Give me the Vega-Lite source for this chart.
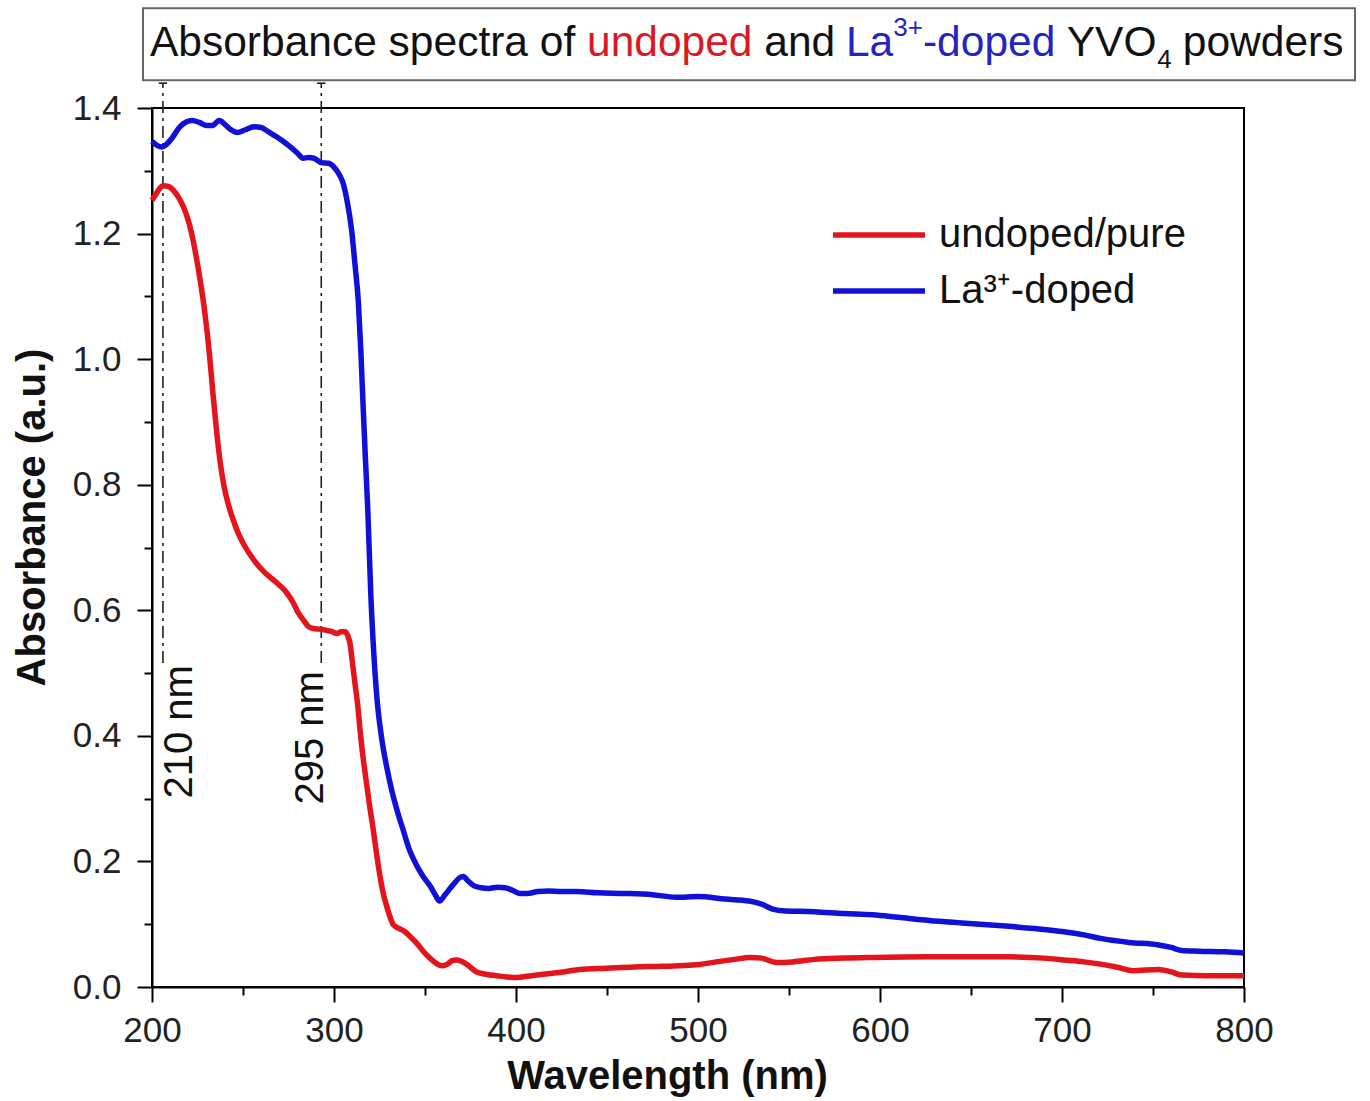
{
  "$schema": "https://vega.github.io/schema/vega-lite/v6.json",
  "width": 1092,
  "height": 879,
  "autosize": {"type": "none"},
  "padding": {"left": 152, "top": 108, "right": 126, "bottom": 114},
  "background": "white",
  "config": {
    "font": "Liberation Sans",
    "view": {"stroke": "black", "strokeWidth": 2},
    "axis": {"grid": false, "domainColor": "black", "domainWidth": 2, "tickColor": "black", "tickWidth": 2, "labelColor": "#222", "labelFontSize": 35, "titleFontSize": 40, "titleFontWeight": "bold", "titleColor": "#111", "labelFont": "Liberation Sans", "titleFont": "Liberation Sans", "labelFlush": false},
    "legend": {"orient": "none", "legendX": 707, "legendY": 107, "symbolType": "M-3,0H3", "symbolSize": 940, "symbolStrokeWidth": 5.5, "labelFontSize": 40, "labelOffset": 40, "rowPadding": 16, "padding": 0, "labelColor": "#111", "labelFont": "Liberation Sans", "labelLimit": 500}
  },
  "layer": [
    {
      "data": {"values": [{}]},
      "mark": {"type": "rect", "fill": "white", "stroke": "#666", "strokeWidth": 2},
      "encoding": {
        "x": {"datum": 195.05, "type": "quantitative"},
        "x2": {"datum": 861.0},
        "y": {"datum": 1.5589, "type": "quantitative"},
        "y2": {"datum": 1.4443}
      }
    },
    {
      "data": {"values": [{}]},
      "mark": {"type": "text", "text": "Absorbance spectra of", "align": "left", "baseline": "alphabetic", "fontSize": 42.5, "fill": "#111"},
      "encoding": {"x": {"datum": 198.9, "type": "quantitative"}, "y": {"datum": 1.4825, "type": "quantitative"}}
    },
    {
      "data": {"values": [{}]},
      "mark": {"type": "text", "text": "undoped", "align": "left", "baseline": "alphabetic", "fontSize": 42.5, "fill": "#d9181f"},
      "encoding": {"x": {"datum": 439.01, "type": "quantitative"}, "y": {"datum": 1.4825, "type": "quantitative"}}
    },
    {
      "data": {"values": [{}]},
      "mark": {"type": "text", "text": "and", "align": "left", "baseline": "alphabetic", "fontSize": 42.5, "fill": "#111"},
      "encoding": {"x": {"datum": 536.4, "type": "quantitative"}, "y": {"datum": 1.4825, "type": "quantitative"}}
    },
    {
      "data": {"values": [{}]},
      "mark": {"type": "text", "text": "La", "align": "left", "baseline": "alphabetic", "fontSize": 42.5, "fill": "#2424c4"},
      "encoding": {"x": {"datum": 581.3, "type": "quantitative"}, "y": {"datum": 1.4825, "type": "quantitative"}}
    },
    {
      "data": {"values": [{}]},
      "mark": {"type": "text", "text": "3+", "align": "left", "baseline": "alphabetic", "fontSize": 26, "fill": "#2424c4"},
      "encoding": {"x": {"datum": 607.3, "type": "quantitative"}, "y": {"datum": 1.5143, "type": "quantitative"}}
    },
    {
      "data": {"values": [{}]},
      "mark": {"type": "text", "text": "-doped", "align": "left", "baseline": "alphabetic", "fontSize": 42.5, "fill": "#2424c4"},
      "encoding": {"x": {"datum": 623.6, "type": "quantitative"}, "y": {"datum": 1.4825, "type": "quantitative"}}
    },
    {
      "data": {"values": [{}]},
      "mark": {"type": "text", "text": "YVO", "align": "left", "baseline": "alphabetic", "fontSize": 42.5, "fill": "#111"},
      "encoding": {"x": {"datum": 702.6, "type": "quantitative"}, "y": {"datum": 1.4825, "type": "quantitative"}}
    },
    {
      "data": {"values": [{}]},
      "mark": {"type": "text", "text": "4", "align": "left", "baseline": "alphabetic", "fontSize": 26, "fill": "#111"},
      "encoding": {"x": {"datum": 752.4, "type": "quantitative"}, "y": {"datum": 1.4634, "type": "quantitative"}}
    },
    {
      "data": {"values": [{}]},
      "mark": {"type": "text", "text": "powders", "align": "left", "baseline": "alphabetic", "fontSize": 42.5, "fill": "#111"},
      "encoding": {"x": {"datum": 766.4, "type": "quantitative"}, "y": {"datum": 1.4825, "type": "quantitative"}}
    },
    {
      "data": {"values": [{"marker": 206, "label": "210 nm"}, {"marker": 293, "label": "295 nm"}]},
      "mark": {"type": "rule", "stroke": "#222", "strokeWidth": 1.6, "strokeDash": [12, 5, 3, 5]},
      "encoding": {
        "x": {"field": "marker", "type": "quantitative"},
        "y": {"datum": 0.516, "type": "quantitative"},
        "y2": {"datum": 1.4395}
      }
    },
    {
      "data": {"values": [{}]},
      "mark": {"type": "rule", "stroke": "#222", "strokeWidth": 1.6},
      "encoding": {"x": {"datum": 203.7, "type": "quantitative"}, "x2": {"datum": 208.3}, "y": {"datum": 1.4395, "type": "quantitative"}}
    },
    {
      "data": {"values": [{}]},
      "mark": {"type": "rule", "stroke": "#222", "strokeWidth": 1.6},
      "encoding": {"x": {"datum": 290.7, "type": "quantitative"}, "x2": {"datum": 295.3}, "y": {"datum": 1.4395, "type": "quantitative"}}
    },
    {
      "data": {"values": [{}]},
      "mark": {"type": "text", "text": "210 nm", "angle": 270, "align": "right", "baseline": "alphabetic", "fontSize": 40, "fill": "#111"},
      "encoding": {"x": {"datum": 221.98, "type": "quantitative"}, "y": {"datum": 0.5127, "type": "quantitative"}}
    },
    {
      "data": {"values": [{}]},
      "mark": {"type": "text", "text": "295 nm", "angle": 270, "align": "right", "baseline": "alphabetic", "fontSize": 40, "fill": "#111"},
      "encoding": {"x": {"datum": 293.96, "type": "quantitative"}, "y": {"datum": 0.503, "type": "quantitative"}}
    },
    {
      "data": {"values": [
        {"series": "undoped/pure", "wavelength": 200, "absorbance": 1.253},
        {"series": "undoped/pure", "wavelength": 202, "absorbance": 1.262},
        {"series": "undoped/pure", "wavelength": 204, "absorbance": 1.271},
        {"series": "undoped/pure", "wavelength": 206.2, "absorbance": 1.276},
        {"series": "undoped/pure", "wavelength": 209, "absorbance": 1.275},
        {"series": "undoped/pure", "wavelength": 211.7, "absorbance": 1.269},
        {"series": "undoped/pure", "wavelength": 214.5, "absorbance": 1.258},
        {"series": "undoped/pure", "wavelength": 217.2, "absorbance": 1.243},
        {"series": "undoped/pure", "wavelength": 219.5, "absorbance": 1.225},
        {"series": "undoped/pure", "wavelength": 221.8, "absorbance": 1.2},
        {"series": "undoped/pure", "wavelength": 224, "absorbance": 1.168},
        {"series": "undoped/pure", "wavelength": 226.5, "absorbance": 1.125},
        {"series": "undoped/pure", "wavelength": 229, "absorbance": 1.075},
        {"series": "undoped/pure", "wavelength": 231.5, "absorbance": 1.01},
        {"series": "undoped/pure", "wavelength": 233.5, "absorbance": 0.945},
        {"series": "undoped/pure", "wavelength": 235.5, "absorbance": 0.885},
        {"series": "undoped/pure", "wavelength": 237.5, "absorbance": 0.835},
        {"series": "undoped/pure", "wavelength": 239.6, "absorbance": 0.797},
        {"series": "undoped/pure", "wavelength": 242, "absorbance": 0.768},
        {"series": "undoped/pure", "wavelength": 244.5, "absorbance": 0.745},
        {"series": "undoped/pure", "wavelength": 247.5, "absorbance": 0.722},
        {"series": "undoped/pure", "wavelength": 251, "absorbance": 0.702},
        {"series": "undoped/pure", "wavelength": 256, "absorbance": 0.68},
        {"series": "undoped/pure", "wavelength": 262, "absorbance": 0.66},
        {"series": "undoped/pure", "wavelength": 266, "absorbance": 0.65},
        {"series": "undoped/pure", "wavelength": 270, "absorbance": 0.64},
        {"series": "undoped/pure", "wavelength": 274, "absorbance": 0.628},
        {"series": "undoped/pure", "wavelength": 277.6, "absorbance": 0.612},
        {"series": "undoped/pure", "wavelength": 280, "absorbance": 0.598},
        {"series": "undoped/pure", "wavelength": 283, "absorbance": 0.585},
        {"series": "undoped/pure", "wavelength": 286, "absorbance": 0.574},
        {"series": "undoped/pure", "wavelength": 288.6, "absorbance": 0.571},
        {"series": "undoped/pure", "wavelength": 292, "absorbance": 0.57},
        {"series": "undoped/pure", "wavelength": 296, "absorbance": 0.568},
        {"series": "undoped/pure", "wavelength": 299, "absorbance": 0.566},
        {"series": "undoped/pure", "wavelength": 301.5, "absorbance": 0.563},
        {"series": "undoped/pure", "wavelength": 304, "absorbance": 0.566},
        {"series": "undoped/pure", "wavelength": 306, "absorbance": 0.566},
        {"series": "undoped/pure", "wavelength": 307.5, "absorbance": 0.56},
        {"series": "undoped/pure", "wavelength": 308.8, "absorbance": 0.547},
        {"series": "undoped/pure", "wavelength": 310, "absorbance": 0.52},
        {"series": "undoped/pure", "wavelength": 311.5, "absorbance": 0.484},
        {"series": "undoped/pure", "wavelength": 313, "absorbance": 0.45},
        {"series": "undoped/pure", "wavelength": 314.5, "absorbance": 0.404},
        {"series": "undoped/pure", "wavelength": 316, "absorbance": 0.365},
        {"series": "undoped/pure", "wavelength": 317.9, "absorbance": 0.324},
        {"series": "undoped/pure", "wavelength": 319.5, "absorbance": 0.29},
        {"series": "undoped/pure", "wavelength": 321.6, "absorbance": 0.25},
        {"series": "undoped/pure", "wavelength": 323.5, "absorbance": 0.21},
        {"series": "undoped/pure", "wavelength": 325.3, "absorbance": 0.176},
        {"series": "undoped/pure", "wavelength": 327, "absorbance": 0.15},
        {"series": "undoped/pure", "wavelength": 329, "absorbance": 0.128},
        {"series": "undoped/pure", "wavelength": 331, "absorbance": 0.11},
        {"series": "undoped/pure", "wavelength": 332.6, "absorbance": 0.099},
        {"series": "undoped/pure", "wavelength": 336, "absorbance": 0.093},
        {"series": "undoped/pure", "wavelength": 339, "absorbance": 0.088},
        {"series": "undoped/pure", "wavelength": 342, "absorbance": 0.08},
        {"series": "undoped/pure", "wavelength": 345.4, "absorbance": 0.07},
        {"series": "undoped/pure", "wavelength": 349, "absorbance": 0.057},
        {"series": "undoped/pure", "wavelength": 352.7, "absorbance": 0.046},
        {"series": "undoped/pure", "wavelength": 356, "absorbance": 0.038},
        {"series": "undoped/pure", "wavelength": 359.2, "absorbance": 0.034},
        {"series": "undoped/pure", "wavelength": 362, "absorbance": 0.036},
        {"series": "undoped/pure", "wavelength": 365, "absorbance": 0.042},
        {"series": "undoped/pure", "wavelength": 367, "absorbance": 0.043},
        {"series": "undoped/pure", "wavelength": 370, "absorbance": 0.041},
        {"series": "undoped/pure", "wavelength": 373, "absorbance": 0.036},
        {"series": "undoped/pure", "wavelength": 378.4, "absorbance": 0.024},
        {"series": "undoped/pure", "wavelength": 384, "absorbance": 0.02},
        {"series": "undoped/pure", "wavelength": 389.4, "absorbance": 0.018},
        {"series": "undoped/pure", "wavelength": 395, "absorbance": 0.016},
        {"series": "undoped/pure", "wavelength": 400.4, "absorbance": 0.015},
        {"series": "undoped/pure", "wavelength": 406, "absorbance": 0.017},
        {"series": "undoped/pure", "wavelength": 411.4, "absorbance": 0.019},
        {"series": "undoped/pure", "wavelength": 420, "absorbance": 0.022},
        {"series": "undoped/pure", "wavelength": 426, "absorbance": 0.024},
        {"series": "undoped/pure", "wavelength": 435, "absorbance": 0.028},
        {"series": "undoped/pure", "wavelength": 450, "absorbance": 0.03},
        {"series": "undoped/pure", "wavelength": 465, "absorbance": 0.032},
        {"series": "undoped/pure", "wavelength": 480, "absorbance": 0.033},
        {"series": "undoped/pure", "wavelength": 490, "absorbance": 0.034},
        {"series": "undoped/pure", "wavelength": 501, "absorbance": 0.036},
        {"series": "undoped/pure", "wavelength": 510, "absorbance": 0.04},
        {"series": "undoped/pure", "wavelength": 520, "absorbance": 0.044},
        {"series": "undoped/pure", "wavelength": 528.5, "absorbance": 0.047},
        {"series": "undoped/pure", "wavelength": 535, "absorbance": 0.046},
        {"series": "undoped/pure", "wavelength": 543, "absorbance": 0.039},
        {"series": "undoped/pure", "wavelength": 552, "absorbance": 0.04},
        {"series": "undoped/pure", "wavelength": 564, "absorbance": 0.044},
        {"series": "undoped/pure", "wavelength": 580, "absorbance": 0.046},
        {"series": "undoped/pure", "wavelength": 596, "absorbance": 0.047},
        {"series": "undoped/pure", "wavelength": 627, "absorbance": 0.048},
        {"series": "undoped/pure", "wavelength": 650, "absorbance": 0.048},
        {"series": "undoped/pure", "wavelength": 670, "absorbance": 0.048},
        {"series": "undoped/pure", "wavelength": 690, "absorbance": 0.046},
        {"series": "undoped/pure", "wavelength": 701, "absorbance": 0.043},
        {"series": "undoped/pure", "wavelength": 712, "absorbance": 0.04},
        {"series": "undoped/pure", "wavelength": 722, "absorbance": 0.036},
        {"series": "undoped/pure", "wavelength": 731, "absorbance": 0.031},
        {"series": "undoped/pure", "wavelength": 739, "absorbance": 0.026},
        {"series": "undoped/pure", "wavelength": 753, "absorbance": 0.028},
        {"series": "undoped/pure", "wavelength": 760, "absorbance": 0.024},
        {"series": "undoped/pure", "wavelength": 766, "absorbance": 0.019},
        {"series": "undoped/pure", "wavelength": 780, "absorbance": 0.018},
        {"series": "undoped/pure", "wavelength": 800, "absorbance": 0.018},
        {"series": "La³⁺-doped", "wavelength": 200, "absorbance": 1.347},
        {"series": "La³⁺-doped", "wavelength": 203, "absorbance": 1.34},
        {"series": "La³⁺-doped", "wavelength": 205.5, "absorbance": 1.338},
        {"series": "La³⁺-doped", "wavelength": 208, "absorbance": 1.342},
        {"series": "La³⁺-doped", "wavelength": 211, "absorbance": 1.352},
        {"series": "La³⁺-doped", "wavelength": 215, "absorbance": 1.369},
        {"series": "La³⁺-doped", "wavelength": 219, "absorbance": 1.378},
        {"series": "La³⁺-doped", "wavelength": 222, "absorbance": 1.38},
        {"series": "La³⁺-doped", "wavelength": 226, "absorbance": 1.377},
        {"series": "La³⁺-doped", "wavelength": 230, "absorbance": 1.372},
        {"series": "La³⁺-doped", "wavelength": 233, "absorbance": 1.372},
        {"series": "La³⁺-doped", "wavelength": 237, "absorbance": 1.38},
        {"series": "La³⁺-doped", "wavelength": 240, "absorbance": 1.374},
        {"series": "La³⁺-doped", "wavelength": 243, "absorbance": 1.366},
        {"series": "La³⁺-doped", "wavelength": 247, "absorbance": 1.361},
        {"series": "La³⁺-doped", "wavelength": 251, "absorbance": 1.365},
        {"series": "La³⁺-doped", "wavelength": 256, "absorbance": 1.37},
        {"series": "La³⁺-doped", "wavelength": 260, "absorbance": 1.369},
        {"series": "La³⁺-doped", "wavelength": 264, "absorbance": 1.362},
        {"series": "La³⁺-doped", "wavelength": 268, "absorbance": 1.355},
        {"series": "La³⁺-doped", "wavelength": 272, "absorbance": 1.347},
        {"series": "La³⁺-doped", "wavelength": 276, "absorbance": 1.338},
        {"series": "La³⁺-doped", "wavelength": 280, "absorbance": 1.328},
        {"series": "La³⁺-doped", "wavelength": 283, "absorbance": 1.32},
        {"series": "La³⁺-doped", "wavelength": 286, "absorbance": 1.321},
        {"series": "La³⁺-doped", "wavelength": 289, "absorbance": 1.32},
        {"series": "La³⁺-doped", "wavelength": 293, "absorbance": 1.313},
        {"series": "La³⁺-doped", "wavelength": 297, "absorbance": 1.312},
        {"series": "La³⁺-doped", "wavelength": 300, "absorbance": 1.306},
        {"series": "La³⁺-doped", "wavelength": 302.5, "absorbance": 1.296},
        {"series": "La³⁺-doped", "wavelength": 305, "absorbance": 1.28},
        {"series": "La³⁺-doped", "wavelength": 307, "absorbance": 1.255},
        {"series": "La³⁺-doped", "wavelength": 309.7, "absorbance": 1.205},
        {"series": "La³⁺-doped", "wavelength": 311.5, "absorbance": 1.152},
        {"series": "La³⁺-doped", "wavelength": 313.4, "absorbance": 1.09},
        {"series": "La³⁺-doped", "wavelength": 314.8, "absorbance": 1.01},
        {"series": "La³⁺-doped", "wavelength": 316, "absorbance": 0.925},
        {"series": "La³⁺-doped", "wavelength": 317.2, "absorbance": 0.845},
        {"series": "La³⁺-doped", "wavelength": 318.5, "absorbance": 0.765},
        {"series": "La³⁺-doped", "wavelength": 320.3, "absorbance": 0.62},
        {"series": "La³⁺-doped", "wavelength": 321.8, "absorbance": 0.535},
        {"series": "La³⁺-doped", "wavelength": 323.6, "absorbance": 0.46},
        {"series": "La³⁺-doped", "wavelength": 326, "absorbance": 0.4},
        {"series": "La³⁺-doped", "wavelength": 329, "absorbance": 0.35},
        {"series": "La³⁺-doped", "wavelength": 332, "absorbance": 0.31},
        {"series": "La³⁺-doped", "wavelength": 335, "absorbance": 0.278},
        {"series": "La³⁺-doped", "wavelength": 338, "absorbance": 0.25},
        {"series": "La³⁺-doped", "wavelength": 341, "absorbance": 0.222},
        {"series": "La³⁺-doped", "wavelength": 345, "absorbance": 0.196},
        {"series": "La³⁺-doped", "wavelength": 349, "absorbance": 0.176},
        {"series": "La³⁺-doped", "wavelength": 353, "absorbance": 0.16},
        {"series": "La³⁺-doped", "wavelength": 356, "absorbance": 0.145},
        {"series": "La³⁺-doped", "wavelength": 358, "absorbance": 0.137},
        {"series": "La³⁺-doped", "wavelength": 361, "absorbance": 0.147},
        {"series": "La³⁺-doped", "wavelength": 365.5, "absorbance": 0.163},
        {"series": "La³⁺-doped", "wavelength": 369, "absorbance": 0.174},
        {"series": "La³⁺-doped", "wavelength": 371, "absorbance": 0.176},
        {"series": "La³⁺-doped", "wavelength": 374, "absorbance": 0.168},
        {"series": "La³⁺-doped", "wavelength": 377, "absorbance": 0.161},
        {"series": "La³⁺-doped", "wavelength": 381, "absorbance": 0.158},
        {"series": "La³⁺-doped", "wavelength": 385, "absorbance": 0.157},
        {"series": "La³⁺-doped", "wavelength": 390, "absorbance": 0.159},
        {"series": "La³⁺-doped", "wavelength": 394, "absorbance": 0.158},
        {"series": "La³⁺-doped", "wavelength": 398, "absorbance": 0.154},
        {"series": "La³⁺-doped", "wavelength": 402, "absorbance": 0.149},
        {"series": "La³⁺-doped", "wavelength": 406, "absorbance": 0.149},
        {"series": "La³⁺-doped", "wavelength": 412, "absorbance": 0.152},
        {"series": "La³⁺-doped", "wavelength": 418, "absorbance": 0.153},
        {"series": "La³⁺-doped", "wavelength": 425, "absorbance": 0.152},
        {"series": "La³⁺-doped", "wavelength": 433, "absorbance": 0.152},
        {"series": "La³⁺-doped", "wavelength": 445, "absorbance": 0.15},
        {"series": "La³⁺-doped", "wavelength": 460, "absorbance": 0.149},
        {"series": "La³⁺-doped", "wavelength": 475, "absorbance": 0.147},
        {"series": "La³⁺-doped", "wavelength": 488, "absorbance": 0.143},
        {"series": "La³⁺-doped", "wavelength": 500, "absorbance": 0.144},
        {"series": "La³⁺-doped", "wavelength": 515, "absorbance": 0.14},
        {"series": "La³⁺-doped", "wavelength": 528, "absorbance": 0.137},
        {"series": "La³⁺-doped", "wavelength": 535, "absorbance": 0.132},
        {"series": "La³⁺-doped", "wavelength": 541, "absorbance": 0.124},
        {"series": "La³⁺-doped", "wavelength": 548, "absorbance": 0.121},
        {"series": "La³⁺-doped", "wavelength": 564, "absorbance": 0.12},
        {"series": "La³⁺-doped", "wavelength": 580, "absorbance": 0.117},
        {"series": "La³⁺-doped", "wavelength": 596, "absorbance": 0.115},
        {"series": "La³⁺-doped", "wavelength": 610, "absorbance": 0.111},
        {"series": "La³⁺-doped", "wavelength": 627, "absorbance": 0.106},
        {"series": "La³⁺-doped", "wavelength": 645, "absorbance": 0.102},
        {"series": "La³⁺-doped", "wavelength": 669, "absorbance": 0.097},
        {"series": "La³⁺-doped", "wavelength": 685, "absorbance": 0.093},
        {"series": "La³⁺-doped", "wavelength": 701, "absorbance": 0.088},
        {"series": "La³⁺-doped", "wavelength": 712, "absorbance": 0.083},
        {"series": "La³⁺-doped", "wavelength": 722, "absorbance": 0.077},
        {"series": "La³⁺-doped", "wavelength": 737, "absorbance": 0.071},
        {"series": "La³⁺-doped", "wavelength": 753, "absorbance": 0.067},
        {"series": "La³⁺-doped", "wavelength": 760, "absorbance": 0.063},
        {"series": "La³⁺-doped", "wavelength": 766, "absorbance": 0.058},
        {"series": "La³⁺-doped", "wavelength": 775, "absorbance": 0.057},
        {"series": "La³⁺-doped", "wavelength": 790, "absorbance": 0.056},
        {"series": "La³⁺-doped", "wavelength": 800, "absorbance": 0.054}
      ]},
      "mark": {"type": "line", "strokeWidth": 5.5, "interpolate": "monotone"},
      "encoding": {
        "x": {
          "field": "wavelength", "type": "quantitative",
          "scale": {"domain": [200, 800], "nice": false, "zero": false},
          "axis": {
            "title": "Wavelength (nm)",
            "values": [200, 250, 300, 350, 400, 450, 500, 550, 600, 650, 700, 750, 800],
            "format": "d",
            "labelExpr": "datum.value % 100 === 0 ? datum.label : ''",
            "tickSize": {"condition": {"test": "datum.value % 100 === 0", "value": 15}, "value": 8},
            "labelPadding": 11,
            "titleX": 515, "titleY": 101, "titleBaseline": "alphabetic", "titleAlign": "center", "titleAnchor": null
          }
        },
        "y": {
          "field": "absorbance", "type": "quantitative",
          "scale": {"domain": [0, 1.4], "nice": false, "zero": false},
          "axis": {
            "title": "Absorbance (a.u.)",
            "values": [0, 0.1, 0.2, 0.3, 0.4, 0.5, 0.6, 0.7, 0.8, 0.9, 1.0, 1.1, 1.2, 1.3, 1.4],
            "labelExpr": "round(datum.value * 10) % 2 === 0 ? format(datum.value, '.1f') : ''",
            "tickSize": {"condition": {"test": "round(datum.value * 10) % 2 === 0", "value": 15}, "value": 8},
            "labelPadding": 16,
            "titleX": -108, "titleY": 409, "titleBaseline": "alphabetic", "titleAlign": "center", "titleAngle": -90
          }
        },
        "color": {
          "field": "series", "type": "nominal",
          "scale": {"domain": ["undoped/pure", "La³⁺-doped"], "range": ["#e3141c", "#1010d8"]},
          "legend": {"title": null}
        }
      }
    }
  ]
}
